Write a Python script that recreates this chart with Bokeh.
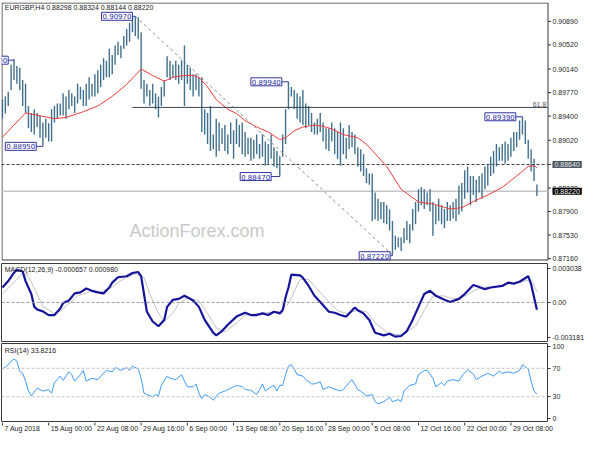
from bokeh.plotting import figure
from bokeh.layouts import column
from bokeh.models import Range1d, FixedTicker, Label, Span
from bokeh.core.properties import value
from bokeh.embed import file_html
from bokeh.resources import INLINE

# ---------------- data (EURGBP H4) ----------------
bar_high = [
    0.8966, 0.8971, 0.8978, 0.9021, 0.9030, 0.9019, 0.9016, 0.8997, 0.8991, 0.8956,
    0.8945, 0.8951, 0.8945, 0.8941, 0.8930, 0.8936, 0.8929, 0.8951, 0.8956, 0.8960,
    0.8960, 0.8976, 0.8971, 0.8981, 0.8976, 0.8971, 0.8991, 0.8986, 0.8981, 0.8991,
    0.9001, 0.8991, 0.9006, 0.9012, 0.9021, 0.9031, 0.9027, 0.9046, 0.9036, 0.9051,
    0.9057, 0.9051, 0.9066, 0.9077, 0.9087, 0.9096, 0.9097, 0.9095, 0.9072, 0.8997,
    0.8991, 0.8981, 0.8991, 0.8976, 0.8971, 0.8986, 0.8997, 0.9034, 0.9027, 0.9021,
    0.9027, 0.9021, 0.9028, 0.9051, 0.9021, 0.9016, 0.9006, 0.9006, 0.9001, 0.9001,
    0.8951, 0.8945, 0.8956, 0.8911, 0.8936, 0.8930, 0.8921, 0.8926, 0.8911, 0.8930,
    0.8918, 0.8936, 0.8926, 0.8930, 0.8915, 0.8906, 0.8906, 0.8903, 0.8911, 0.8896,
    0.8911, 0.8900, 0.8896, 0.8911, 0.8891, 0.8885, 0.8877, 0.8911, 0.8951, 0.8994,
    0.8986, 0.8981, 0.8976, 0.8971, 0.8981, 0.8960, 0.8956, 0.8945, 0.8930, 0.8936,
    0.8945, 0.8930, 0.8921, 0.8921, 0.8930, 0.8921, 0.8915, 0.8930, 0.8921, 0.8906,
    0.8926, 0.8915, 0.8911, 0.8891, 0.8888, 0.8880, 0.8858, 0.8850, 0.8850, 0.8820,
    0.8810, 0.8805, 0.8805, 0.8800, 0.8793, 0.8775, 0.8752, 0.8749, 0.8749, 0.8764,
    0.8775, 0.8770, 0.8794, 0.8805, 0.8825, 0.8828, 0.8825, 0.8820, 0.8825, 0.8805,
    0.8800, 0.8810, 0.8800, 0.8794, 0.8805, 0.8800, 0.8805, 0.8810, 0.8831, 0.8835,
    0.8855, 0.8861, 0.8846, 0.8846, 0.8840, 0.8846, 0.8850, 0.8861, 0.8865, 0.8876,
    0.8885, 0.8896, 0.8891, 0.8896, 0.8900, 0.8896, 0.8906, 0.8915, 0.8915, 0.8933,
    0.8939, 0.8933, 0.8903, 0.8888, 0.8873, 0.88324,
]
bar_low = [
    0.8936, 0.8944, 0.8956, 0.8981, 0.8997, 0.8991, 0.8981, 0.8956, 0.8945, 0.8921,
    0.8915, 0.8911, 0.8923, 0.8906, 0.8895, 0.8906, 0.8900, 0.8900, 0.8930, 0.8936,
    0.8941, 0.8941, 0.8936, 0.8951, 0.8956, 0.8945, 0.8960, 0.8966, 0.8956, 0.8956,
    0.8966, 0.8971, 0.8971, 0.8976, 0.8986, 0.8997, 0.9001, 0.9001, 0.9006, 0.9021,
    0.9036, 0.9031, 0.9046, 0.9051, 0.9057, 0.9072, 0.9066, 0.9061, 0.8983, 0.8960,
    0.8971, 0.8956, 0.8960, 0.8951, 0.8938, 0.8956, 0.8971, 0.9001, 0.8997, 0.9001,
    0.8997, 0.8991, 0.8997, 0.8956, 0.8991, 0.8981, 0.8971, 0.8981, 0.8971, 0.8915,
    0.8911, 0.8896, 0.8885, 0.8888, 0.8876, 0.8885, 0.8896, 0.8885, 0.8880, 0.8896,
    0.8873, 0.8896, 0.8891, 0.8880, 0.8876, 0.8880, 0.8870, 0.8873, 0.8880, 0.8873,
    0.8876, 0.8862, 0.8865, 0.8873, 0.8861, 0.8858, 0.8847, 0.8876, 0.8896, 0.8951,
    0.8971, 0.8951, 0.8936, 0.8930, 0.8926, 0.8921, 0.8926, 0.8915, 0.8911, 0.8911,
    0.8915, 0.8900, 0.8888, 0.8885, 0.8900, 0.8880, 0.8873, 0.8862, 0.8880, 0.8873,
    0.8888, 0.8891, 0.8880, 0.8861, 0.8853, 0.8846, 0.8835, 0.8832, 0.8775, 0.8778,
    0.8775, 0.8778, 0.8772, 0.8770, 0.8760, 0.8722, 0.8730, 0.8734, 0.8728, 0.8740,
    0.8745, 0.8740, 0.8760, 0.8770, 0.8790, 0.8800, 0.8794, 0.8800, 0.8790, 0.8752,
    0.8770, 0.8775, 0.8770, 0.8764, 0.8775, 0.8775, 0.8779, 0.8775, 0.8785, 0.8790,
    0.8810, 0.8820, 0.8800, 0.8816, 0.8805, 0.8820, 0.8810, 0.8825, 0.8831, 0.8846,
    0.8850, 0.8861, 0.8870, 0.8870, 0.8865, 0.8870, 0.8876, 0.8885, 0.8891, 0.8903,
    0.8911, 0.8896, 0.8873, 0.8853, 0.8838, 0.88144,
]

ma_bar = [0, 8, 18, 22, 28, 33, 38, 43, 48, 52, 56, 59, 63, 66, 68, 71, 74, 78, 81, 84,
          88, 92, 96, 98, 101, 104, 108, 111, 114, 118, 123, 126, 130, 133, 138, 144, 149,
          155, 159, 164, 168, 173, 178, 182, 184, 185]
ma_val = [0.8907, 0.8945, 0.8936, 0.8938, 0.8947, 0.8956, 0.8971, 0.8990, 0.9014, 0.9004,
          0.8995, 0.9001, 0.9004, 0.9004, 0.9001, 0.8986, 0.8966, 0.8951, 0.8944, 0.8933,
          0.8923, 0.8915, 0.8903, 0.8906, 0.8917, 0.8923, 0.8926, 0.8924, 0.8920, 0.8911,
          0.8906, 0.8896, 0.8876, 0.8861, 0.8825, 0.8805, 0.8802, 0.8794, 0.8796, 0.8808,
          0.8816, 0.8828, 0.8846, 0.8861, 0.8862, 0.8859]

macd_bar = [0, 2, 4, 5, 7, 8, 10, 11, 12, 14,
            16, 18, 20, 21, 23, 25, 27, 29, 31, 33,
            35, 37, 38, 40, 43, 45, 47, 48, 49, 50,
            52, 54, 56, 57, 59, 61, 63, 64, 66, 68,
            70, 73, 74, 76, 78, 81, 84, 86, 88, 90,
            92, 94, 96, 97, 98, 99, 100, 103, 104, 106,
            108, 110, 113, 115, 117, 119, 122, 123, 125, 127,
            129, 132, 134, 136, 138, 140, 142, 144, 146, 148,
            150, 153, 155, 158, 160, 163, 165, 167, 169, 173,
            175, 177, 179, 182, 183, 185]
macd_val = [0.00135, 0.00193, 0.00269, 0.00295, 0.00280, 0.00193, 0.00076, -0.00038, -0.00064, -0.00081,
            -0.00114, -0.00114, -0.00055, -0.00005, 0.00018, 0.00082, 0.00091, 0.00126, 0.00105, 0.00091,
            0.00082, 0.00135, 0.00179, 0.00228, 0.00237, 0.00266, 0.00275, 0.00237, 0.00076, -0.00084,
            -0.00172, -0.00215, -0.00158, -0.00040, 0.00024, 0.00032, 0.00061, 0.00047, 0.00018, -0.00040,
            -0.00158, -0.00274, -0.00298, -0.00259, -0.00201, -0.00128, -0.00093, -0.00114, -0.00114, -0.00099,
            -0.00114, -0.00084, -0.00099, -0.00070, 0.00047, 0.00135, 0.00251, 0.00245, 0.00223, 0.00149,
            0.00061, 0.00004, -0.00084, -0.00093, -0.00114, -0.00128, -0.00046, -0.00070, -0.00099, -0.00158,
            -0.00274, -0.00298, -0.00283, -0.00309, -0.00303, -0.00259, -0.00158, -0.00040, 0.00076, 0.00105,
            0.00061, 0.00024, 0.00004, 0.00032, 0.00076, 0.00158, 0.00140, 0.00120, 0.00135, 0.00149,
            0.00179, 0.00170, 0.00187, 0.00237, 0.00164, -0.000657]

sig_bar = [0, 4, 7, 9, 12, 14, 18, 20, 23, 26,
           31, 34, 38, 41, 46, 49, 51, 54, 56, 59,
           61, 64, 68, 71, 74, 77, 81, 84, 89, 96,
           99, 103, 106, 109, 113, 116, 119, 123, 126, 129,
           133, 136, 139, 143, 146, 149, 153, 156, 159, 163,
           166, 169, 173, 176, 179, 183, 185]
sig_val = [0.00076, 0.00181, 0.00265, 0.00234, 0.00076, -0.00038, -0.00099, -0.00081, -0.00011, 0.00059,
           0.00102, 0.00094, 0.00138, 0.00199, 0.00260, 0.00225, 0.00076, -0.00099, -0.00169, -0.00099,
           -0.00011, 0.00041, 0.00015, -0.00099, -0.00230, -0.00265, -0.00186, -0.00116, -0.00099, -0.00081,
           -0.00011, 0.00208, 0.00208, 0.00120, 0.00006, -0.00073, -0.00099, -0.00073, -0.00081, -0.00186,
           -0.00265, -0.00292, -0.00283, -0.00213, -0.00073, 0.00059, 0.00059, 0.00032, 0.00041, 0.00102,
           0.00138, 0.00138, 0.00146, 0.00173, 0.00181, 0.00208, 0.00098]

rsi_bar = [0, 2, 3, 4, 5, 6, 7, 8, 9, 10,
           12, 13, 14, 16, 17, 18, 20, 21, 23, 24,
           25, 27, 28, 29, 31, 33, 34, 36, 38, 39,
           41, 43, 44, 45, 47, 48, 49, 50, 52, 53,
           54, 55, 57, 58, 60, 62, 63, 64, 66, 67,
           68, 69, 70, 72, 73, 75, 77, 79, 81, 83,
           84, 86, 88, 89, 90, 91, 93, 94, 95, 96,
           97, 98, 99, 100, 101, 102, 104, 105, 107, 108,
           110, 111, 113, 114, 117, 118, 120, 121, 123, 124,
           126, 128, 129, 130, 132, 134, 135, 137, 138, 139,
           141, 143, 144, 146, 147, 149, 150, 152, 153, 154,
           156, 158, 159, 161, 163, 164, 166, 168, 170, 172,
           173, 175, 177, 179, 180, 182, 183, 184, 185]
rsi_val = [69, 75, 80, 83, 80, 66, 63, 52, 38, 31,
           42, 40, 38, 40, 35, 50, 59, 53, 65, 61,
           52, 61, 67, 52, 56, 54, 59, 67, 65, 71,
           67, 71, 67, 73, 69, 56, 35, 33, 30, 33,
           31, 46, 59, 56, 54, 61, 52, 44, 44, 48,
           35, 27, 33, 29, 25, 35, 38, 42, 46, 44,
           40, 39, 33, 40, 48, 38, 44, 46, 38, 46,
           46, 61, 73, 75, 69, 61, 59, 54, 48, 48,
           51, 40, 44, 42, 38, 40, 50, 54, 40, 38,
           31, 33, 23, 20, 23, 29, 23, 26, 23, 38,
           46, 48, 61, 67, 67, 56, 44, 50, 46, 52,
           54, 52, 59, 68, 62, 54, 59, 63, 59, 66,
           63, 65, 63, 67, 75, 69, 52, 38, 33.8216]

date_bar = [0, 16, 32, 48, 64, 80, 96, 112, 128, 144, 160, 176]
date_labels = ["7 Aug 2018", "15 Aug 00:00", "22 Aug 08:00", "29 Aug 16:00", "6 Sep 00:00",
               "13 Sep 08:00", "20 Sep 16:00", "28 Sep 00:00", "5 Oct 08:00", "12 Oct 16:00",
               "22 Oct 00:00", "29 Oct 08:00"]

price_ticks = [0.87160, 0.87530, 0.87900, 0.88270, 0.88640, 0.89020, 0.89400,
               0.89770, 0.90140, 0.90520, 0.90890]
macd_ticks = [-0.003181, 0.0, 0.003038]
macd_tick_text = ["-0.003181", "0.00", "0.003038"]
rsi_ticks = [0, 30, 70, 100]
rsi_levels = [30, 70]

# price marks (swing highs / lows)
mark_text = ["0.90970", "0.89940", "0.89390", "0.88950", "0.88470", "0.87220"]
mark_price = [0.90970, 0.89940, 0.89390, 0.88950, 0.88470, 0.87220]
mark_bar = [46, 99, 180, 14, 96, 135]
left_mark_text = "0.90300"
left_mark_price = 0.90300
left_mark_bar = 4

last_open, last_high, last_low, last_close = 0.88298, 0.88324, 0.88144, 0.88220
level_price = 0.88640
fib_hi_bar, fib_lo_bar = 46, 135
fib_ratio = 0.618

title_main = "EURGBP,H4  0.88298 0.88324 0.88144 0.88220"
title_macd = "MACD(12,26,9) -0.000657 0.000980"
title_rsi = "RSI(14) 33.8216"

# ---------------- layout / style ----------------
FONT = "Liberation Sans"
FW = 546            # chart frame width (px)
AXW = 36            # price-axis strip width of the main panel (px)
CH = 258            # main chart box height (px)
X0, X1 = -0.33, 188.67
YB, YT = 0.8713, 0.91187
PXX = (X1 - X0) / FW
PXY = (YT - YB) / CH
xr = Range1d(X0, X1)
CANDLE = "#41708d"
MARK_BLUE = "#3434a6"
AX_TXT = "#262626"


def panel(fh, yr, top, bottom):
    f = figure(frame_width=FW, frame_height=fh, x_range=xr, y_range=yr,
               x_axis_location=None, y_axis_location="right",
               toolbar_location=None, output_backend="svg",
               min_border_left=1, min_border_right=0,
               min_border_top=top, min_border_bottom=bottom,
               outline_line_color="#3a3a3a", outline_line_width=1,
               background_fill_color="white", border_fill_color="white")
    f.grid.visible = False
    ax = f.yaxis[0]
    ax.axis_line_color = None
    ax.major_tick_out = 3
    ax.major_tick_in = 0
    ax.minor_tick_out = 0
    ax.minor_tick_in = 0
    ax.major_tick_line_color = "#333333"
    ax.major_label_standoff = 2
    ax.major_label_text_font = FONT
    ax.major_label_text_font_size = "7px"
    ax.major_label_text_color = AX_TXT
    return f


# ---- main price panel (its price scale is drawn inside the frame, MT4 style) ----
p = figure(frame_width=FW + AXW, frame_height=CH + 2,
           x_range=Range1d(X0, X0 + (X1 - X0) * (FW + AXW) / FW),
           y_range=Range1d(YB - 2 * PXY, YT),
           x_axis_location=None, y_axis_location=None, toolbar_location=None,
           output_backend="svg", min_border_left=1, min_border_right=0,
           min_border_top=2, min_border_bottom=0, outline_line_color=None,
           background_fill_color="white", border_fill_color="white")
p.grid.visible = False

# chart box
bx0, bx1 = X0 + 0.5 * PXX, X1 + 0.5 * PXX
by0, by1 = YB + 0.5 * PXY, YT - 0.5 * PXY
p.line([bx1, bx0, bx0, bx1, bx1], [by1, by1, by0, by0, by1], line_color="#3a3a3a", line_width=1)

# price scale ticks + labels
nt = len(price_ticks)
p.segment(x0=[bx1] * nt, y0=price_ticks, x1=[bx1 + 3 * PXX] * nt, y1=price_ticks,
          line_color="#333333", line_width=1)
p.text(x=[X1 + 5 * PXX] * nt, y=price_ticks, text=["%.5f" % t for t in price_ticks],
       text_align="left", text_baseline="middle", text_font=value(FONT),
       text_font_size="7px", text_color=AX_TXT)

# current price line, watermark, horizontal level
p.segment(x0=[X0], y0=[last_close], x1=[X1], y1=[last_close], line_color="#c6c6c6",
          line_width=1.5)
p.text(x=[44], y=[0.8760], text=["ActionForex.com"], text_font=value(FONT),
       text_font_size="18px", text_color="#c9c9c9", text_align="left",
       text_baseline="middle")
p.segment(x0=[X0], y0=[level_price], x1=[X1], y1=[level_price], line_color="#3c3c3c",
          line_dash="3 2", line_width=1)

# candles and moving average
bars = list(range(len(bar_high)))
p.segment(x0=bars, y0=bar_low, x1=bars, y1=bar_high, line_color=CANDLE, line_width=1.4)
p.line(ma_bar, ma_val, line_color="#f03c3c", line_width=1)

# fibonacci retracement
fib_hi = bar_high[fib_hi_bar]
fib_lo = bar_low[fib_lo_bar]
fib_level = fib_lo + fib_ratio * (fib_hi - fib_lo)
p.segment(x0=[fib_hi_bar], y0=[fib_hi], x1=[fib_lo_bar], y1=[fib_lo],
          line_color="#8c8c8c", line_dash="3 3", line_width=1)
p.segment(x0=[fib_hi_bar - 1], y0=[fib_level], x1=[X1], y1=[fib_level],
          line_color="#35444e", line_width=1)
p.text(x=[X1 - 0.4], y=[fib_level], text=["61.8"], text_align="right",
       text_baseline="bottom", text_font=value(FONT), text_font_size="7px",
       text_color="#555555")

# swing labels
mark_gap = [1.0, 2.3, 2.3, 2.3, 3.0, 0.8]
mark_label_y = [0.90970, 0.89940, 0.89390, 0.88925, 0.88450, 0.87205]
for t, pr, b, g, ly in zip(mark_text, mark_price, mark_bar, mark_gap, mark_label_y):
    p.line([b - g, b, b], [ly, ly, pr], line_color=MARK_BLUE, line_width=1)
    p.add_layout(Label(x=b - g, y=ly, text=t, text_align="right", text_baseline="middle",
                       text_font="DejaVu Sans", text_font_size="7px", text_color="#2c2ca0",
                       background_fill_color="white", border_line_color=MARK_BLUE,
                       border_line_width=1, padding=1))
p.line([left_mark_bar - 2, left_mark_bar], [left_mark_price - 0.0002, left_mark_price - 0.0002],
       line_color=MARK_BLUE, line_width=1)
p.add_layout(Label(x=left_mark_bar - 2, y=left_mark_price - 0.0002, text=left_mark_text,
                   text_align="right", text_baseline="middle", text_font="DejaVu Sans",
                   text_font_size="7px", text_color="#2c2ca0", background_fill_color="white",
                   border_line_color=MARK_BLUE, border_line_width=1, padding=1))

p.text(x=[0.8], y=[0.9111], text=[title_main], text_align="left", text_baseline="middle",
       text_font=value(FONT), text_font_size="7px", text_color="#222222")

# highlighted prices on the scale
p.add_layout(Label(x=X1 + 5 * PXX, y=level_price, text="%.5f" % level_price,
                   text_align="left", text_baseline="middle", text_font=FONT,
                   text_font_size="7px", text_color="#e8e8e8",
                   background_fill_color="#4b5a60", padding=(2, 1)))
p.add_layout(Label(x=X1 + 5 * PXX, y=last_close, text="%.5f" % last_close,
                   text_align="left", text_baseline="middle", text_font=FONT,
                   text_font_size="7px", text_color="white",
                   background_fill_color="black", padding=(2, 1)))

# ---- MACD panel ----
m = panel(78, Range1d(-0.00353, 0.00352), 1, 1)
m.yaxis[0].ticker = FixedTicker(ticks=macd_ticks)
m.yaxis[0].major_label_overrides = dict(zip(macd_ticks, macd_tick_text))
m.add_layout(Span(location=0, dimension="width", line_color="#9a9a9a", line_dash="3 2",
                  line_width=1))
m.line(sig_bar, sig_val, line_color="#c3c3c3", line_width=1)
m.line(macd_bar, macd_val, line_color="#14149c", line_width=2.2)
m.text(x=[0.8], y=[0.0030], text=[title_macd], text_align="left", text_baseline="middle",
       text_font=value(FONT), text_font_size="7px", text_color="#222222")

# ---- RSI panel ----
r = panel(78, Range1d(-4.9, 104.9), 1, 1)
r.yaxis[0].ticker = FixedTicker(ticks=rsi_ticks)
for lv in rsi_levels:
    r.add_layout(Span(location=lv, dimension="width", line_color="#c4c4c4",
                      line_dash="3 2", line_width=1))
r.line(rsi_bar, rsi_val, line_color="#3d9cff", line_width=1)
r.text(x=[0.8], y=[95], text=[title_rsi], text_align="left", text_baseline="middle",
       text_font=value(FONT), text_font_size="7px", text_color="#222222")

# ---- date strip ----
SW = 583
s = figure(frame_width=SW, frame_height=12,
           x_range=Range1d(X0, X0 + (X1 - X0) * SW / FW), y_range=Range1d(0, 1),
           x_axis_location=None, y_axis_location=None, toolbar_location=None,
           output_backend="svg", min_border_left=1, min_border_right=0,
           min_border_top=0, min_border_bottom=0, outline_line_color=None,
           background_fill_color="white", border_fill_color="white")
s.grid.visible = False
n = len(date_bar)
s.segment(x0=date_bar, y0=[1] * n, x1=date_bar, y1=[0.75] * n, line_color="#333333",
          line_width=1)
s.text(x=date_bar, y=[0.5] * n, text=date_labels, x_offset=2, text_align="left",
       text_baseline="middle", text_font=value(FONT), text_font_size="7px",
       text_color="#222222")

layout = column(p, m, r, s, spacing=0)
open("out.html", "w").write(file_html(layout, INLINE, title="EURGBP H4"))
